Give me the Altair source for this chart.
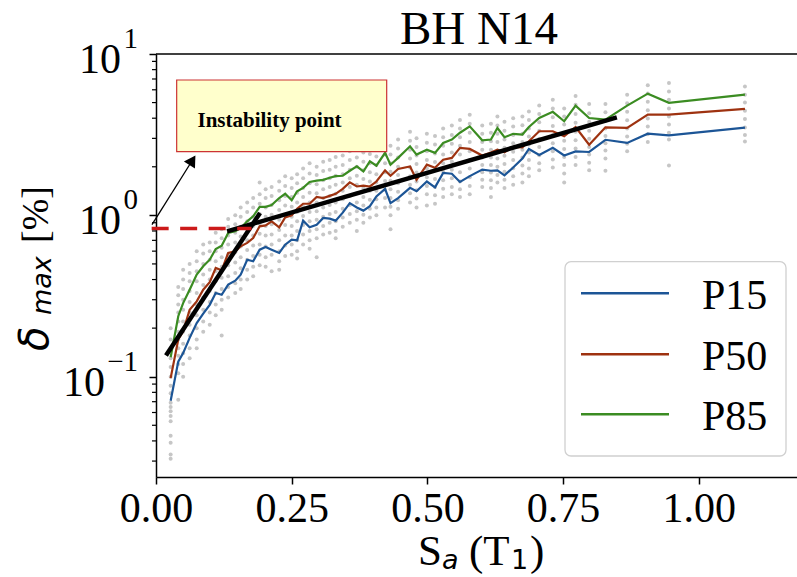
import altair as alt
import pandas as pd

# ---------------- data ----------------
sa = [0.027, 0.041, 0.050, 0.062, 0.075, 0.087, 0.099, 0.110, 0.121, 0.133,
      0.146, 0.156, 0.168, 0.179, 0.191, 0.202, 0.213, 0.227, 0.238, 0.250,
      0.260, 0.271, 0.283, 0.296, 0.308, 0.320, 0.331, 0.344, 0.357, 0.370,
      0.382, 0.394, 0.406, 0.422, 0.432, 0.446, 0.468, 0.480, 0.499, 0.514,
      0.529, 0.545, 0.560, 0.578, 0.601, 0.617, 0.629, 0.642, 0.658, 0.675,
      0.687, 0.706, 0.731, 0.752, 0.773, 0.798, 0.828, 0.868, 0.906, 0.945,
      1.085]

p15 = [0.071, 0.124, 0.140, 0.174, 0.215, 0.246, 0.279, 0.330, 0.322, 0.372,
       0.394, 0.429, 0.531, 0.519, 0.613, 0.637, 0.613, 0.585, 0.658, 0.707,
       0.700, 0.927, 0.843, 0.875, 0.963, 0.954, 0.927, 1.04, 1.19, 1.12,
       1.07, 1.14, 1.31, 1.46, 1.19, 1.28, 1.48, 1.41, 1.62, 1.49,
       1.83, 1.81, 1.61, 1.75, 1.92, 1.89, 1.90, 1.77, 1.98, 2.25,
       2.58, 2.37, 2.62, 2.35, 2.49, 2.47, 2.94, 2.81, 3.21, 3.13,
       3.50]

p50 = [0.098, 0.170, 0.191, 0.260, 0.293, 0.346, 0.385, 0.472, 0.456, 0.585,
       0.598, 0.643, 0.675, 0.724, 0.855, 0.867, 0.918, 0.843, 0.972, 1.00,
       1.10, 1.18, 1.18, 1.30, 1.28, 1.32, 1.36, 1.46, 1.60, 1.51,
       1.53, 1.51, 1.62, 1.90, 1.76, 1.94, 2.01, 1.66, 2.06, 1.97,
       2.21, 2.27, 2.62, 2.58, 2.35, 2.45, 2.55, 2.46, 2.66, 2.64,
       2.88, 3.32, 3.32, 3.09, 3.53, 2.74, 3.51, 3.48, 4.21, 4.21,
       4.57]

p85 = [0.132, 0.237, 0.286, 0.346, 0.429, 0.483, 0.531, 0.619, 0.649, 0.778,
       0.796, 0.835, 0.918, 0.986, 1.13, 1.13, 1.16, 1.28, 1.36, 1.24,
       1.41, 1.48, 1.61, 1.64, 1.66, 1.71, 1.75, 1.76, 1.89, 2.01,
       1.87, 2.16, 2.03, 2.44, 2.06, 2.27, 2.68, 2.38, 2.55, 2.44,
       2.81, 2.95, 3.25, 3.56, 2.92, 2.95, 3.48, 3.05, 3.20, 3.17,
       3.53, 4.01, 4.38, 3.83, 4.79, 4.01, 3.92, 4.79, 5.68, 4.98,
       5.60]

# individual records (grey dots), one list per Sa value above
records = [
    [0.20, 0.17, 0.15, 0.13, 0.115, 0.10, 0.088, 0.079, 0.069, 0.065, 0.061, 0.057, 0.053, 0.043, 0.039, 0.033, 0.031],
    [0.36, 0.32, 0.28, 0.25, 0.22, 0.19, 0.17, 0.15, 0.135, 0.12, 0.105, 0.072],
    [0.46, 0.40, 0.35, 0.30, 0.26, 0.22, 0.19, 0.16, 0.14, 0.12, 0.10],
    [0.50, 0.44, 0.39, 0.34, 0.29, 0.25, 0.21, 0.18, 0.15, 0.13],
    [0.60, 0.52, 0.45, 0.39, 0.33, 0.28, 0.24, 0.20, 0.17, 0.15],
    [0.66, 0.58, 0.50, 0.43, 0.37, 0.31, 0.26, 0.22, 0.19],
    [0.68, 0.60, 0.53, 0.46, 0.40, 0.34, 0.29, 0.25, 0.21],
    [0.78, 0.68, 0.60, 0.52, 0.45, 0.39, 0.33, 0.28, 0.24],
    [0.82, 0.72, 0.63, 0.55, 0.48, 0.41, 0.35, 0.30, 0.26, 0.18],
    [0.95, 0.85, 0.75, 0.66, 0.57, 0.49, 0.42, 0.36, 0.31],
    [1.00, 0.88, 0.78, 0.68, 0.59, 0.51, 0.44, 0.38, 0.33],
    [1.12, 0.98, 0.85, 0.74, 0.64, 0.55, 0.47, 0.40, 0.35],
    [1.20, 1.05, 0.92, 0.80, 0.70, 0.61, 0.53, 0.46, 0.40],
    [1.28, 1.12, 0.98, 0.86, 0.75, 0.65, 0.56, 0.48, 0.42],
    [1.60, 1.35, 1.18, 1.02, 0.89, 0.77, 0.66, 0.57, 0.49],
    [1.45, 1.28, 1.12, 0.98, 0.86, 0.75, 0.64, 0.55, 0.48],
    [1.50, 1.32, 1.16, 1.01, 0.88, 0.76, 0.66, 0.57, 0.45],
    [1.62, 1.42, 1.24, 1.08, 0.94, 0.81, 0.70, 0.60, 0.52, 0.46],
    [1.75, 1.52, 1.32, 1.15, 1.00, 0.87, 0.75, 0.65, 0.56],
    [1.70, 1.48, 1.30, 1.13, 0.98, 0.86, 0.75, 0.66, 0.57],
    [1.80, 1.58, 1.38, 1.20, 1.05, 0.92, 0.80, 0.70, 0.60, 0.54],
    [1.95, 1.70, 1.48, 1.30, 1.13, 0.99, 0.87, 0.76, 0.66],
    [2.10, 1.82, 1.58, 1.38, 1.20, 1.05, 0.92, 0.80, 0.70, 0.62],
    [2.00, 1.78, 1.56, 1.37, 1.20, 1.06, 0.94, 0.82, 0.72, 0.55],
    [2.15, 1.88, 1.65, 1.45, 1.28, 1.12, 0.98, 0.86, 0.76],
    [2.20, 1.92, 1.70, 1.50, 1.32, 1.16, 1.02, 0.90, 0.78],
    [2.30, 2.00, 1.76, 1.55, 1.36, 1.20, 1.05, 0.92, 0.80, 0.72],
    [2.35, 2.05, 1.80, 1.60, 1.42, 1.26, 1.10, 0.97, 0.85],
    [2.50, 2.20, 1.92, 1.70, 1.50, 1.32, 1.16, 1.02, 0.90],
    [2.60, 2.28, 2.00, 1.76, 1.55, 1.37, 1.20, 1.06, 0.94, 0.80],
    [2.45, 2.15, 1.90, 1.68, 1.48, 1.30, 1.15, 1.01, 0.90],
    [2.75, 2.40, 2.10, 1.85, 1.62, 1.42, 1.25, 1.10, 0.97],
    [2.65, 2.32, 2.05, 1.80, 1.60, 1.42, 1.26, 1.12, 1.00],
    [3.10, 2.70, 2.38, 2.10, 1.85, 1.63, 1.44, 1.28, 1.12],
    [2.70, 2.38, 2.10, 1.86, 1.64, 1.45, 1.28, 1.13, 1.00, 0.82],
    [2.95, 2.60, 2.28, 2.00, 1.78, 1.58, 1.40, 1.24, 1.10],
    [3.30, 2.90, 2.55, 2.25, 1.98, 1.75, 1.55, 1.37, 1.20],
    [3.00, 2.65, 2.35, 2.08, 1.84, 1.62, 1.43, 1.27, 1.12],
    [3.20, 2.82, 2.50, 2.20, 1.95, 1.72, 1.52, 1.35, 1.15],
    [3.10, 2.75, 2.42, 2.14, 1.90, 1.68, 1.50, 1.33, 1.18],
    [3.45, 3.05, 2.70, 2.38, 2.10, 1.86, 1.65, 1.46, 1.30],
    [3.60, 3.15, 2.78, 2.45, 2.16, 1.92, 1.70, 1.50, 1.35],
    [3.90, 3.45, 3.05, 2.70, 2.38, 2.10, 1.85, 1.62, 1.45, 1.30],
    [4.20, 3.70, 3.25, 2.85, 2.50, 2.20, 1.95, 1.72, 1.52, 1.35],
    [3.60, 3.20, 2.85, 2.55, 2.28, 2.05, 1.85, 1.66, 1.50],
    [3.70, 3.25, 2.88, 2.55, 2.28, 2.05, 1.84, 1.65, 1.48, 1.30],
    [4.10, 3.60, 3.20, 2.85, 2.52, 2.25, 2.00, 1.78, 1.60],
    [3.80, 3.35, 2.95, 2.62, 2.34, 2.08, 1.86, 1.66, 1.48],
    [4.00, 3.55, 3.15, 2.80, 2.48, 2.20, 1.96, 1.75, 1.55],
    [4.10, 3.62, 3.20, 2.85, 2.55, 2.28, 2.04, 1.82, 1.60],
    [4.40, 3.90, 3.45, 3.08, 2.75, 2.45, 2.20, 1.95, 1.75],
    [4.80, 4.25, 3.78, 3.35, 2.98, 2.65, 2.36, 2.10, 1.90],
    [5.20, 4.60, 4.05, 3.58, 3.15, 2.80, 2.50, 2.22, 1.98],
    [4.60, 4.10, 3.65, 3.25, 2.90, 2.58, 2.30, 2.05, 1.82, 1.60],
    [5.50, 4.85, 4.25, 3.75, 3.30, 2.92, 2.60, 2.30, 2.05],
    [4.90, 4.30, 3.80, 3.35, 2.98, 2.65, 2.38, 2.12, 1.90],
    [4.90, 4.35, 3.85, 3.45, 3.10, 2.80, 2.52, 2.25, 1.89],
    [5.60, 4.95, 4.38, 3.88, 3.45, 3.08, 2.78, 2.50],
    [6.40, 5.70, 5.05, 4.48, 3.98, 3.55, 3.18, 2.85],
    [6.60, 5.85, 5.20, 4.60, 4.10, 3.65, 3.25, 2.95, 2.04],
    [6.30, 5.60, 5.00, 4.45, 3.95, 3.50, 3.15, 2.87],
]

series_names = ["P15", "P50", "P85"]
series_colors = ["#1c5596", "#9e3210", "#3b8c22"]

# bilinear fit segments (start x, start y, end x, end y)
fit_x1 = [0.0184, 0.131]
fit_y1 = [0.1355, 0.796]
fit_x2 = [0.1916, 0.849]
fit_y2 = [1.035, 4.05]

# instability point (dashed level)
inst_x = [-0.008, 0.176]
inst_y = [0.83]

# annotation box / text / arrow (data coordinates)
box_x = [0.0381, 0.425]
box_y = [2.48, 6.90]
box_text = "Instability point"
box_text_pos = [0.0764, 3.53]
arrow_tail = [-0.0074, 0.876]
arrow_head = [0.0671, 2.196]

x_ticks = [0.0, 0.25, 0.5, 0.75, 1.0]
y_major = [0.1, 1.0, 10.0]
y_minor = [0.03, 0.04, 0.05, 0.06, 0.07, 0.08, 0.09,
           0.2, 0.3, 0.4, 0.5, 0.6, 0.7, 0.8, 0.9,
           2, 3, 4, 5, 6, 7, 8, 9]

# ---------------- tables ----------------
dots_df = pd.DataFrame([{"x": s, "v": v} for s, vals in zip(sa, records) for v in vals])
lines_df = pd.DataFrame(
    [{"x": s, "v": v, "series": n}
     for n, col in zip(series_names, [p15, p50, p85])
     for s, v in zip(sa, col)]
)
fit_df = pd.DataFrame({"x": fit_x1, "v": fit_y1, "x2": fit_x2, "v2": fit_y2})
inst_df = pd.DataFrame({"x": [inst_x[0]], "x2": [inst_x[1]], "v": inst_y})
box_df = pd.DataFrame({"x": [box_x[0]], "x2": [box_x[1]], "v": [box_y[0]], "v2": [box_y[1]]})
boxtext_df = pd.DataFrame({"x": [box_text_pos[0]], "v": [box_text_pos[1]], "t": [box_text]})
arrow_df = pd.DataFrame({"x": [arrow_tail[0]], "v": [arrow_tail[1]],
                         "x2": [arrow_head[0]], "v2": [arrow_head[1]]})
head_df = pd.DataFrame({"x": [arrow_head[0]], "v": [arrow_head[1]]})
minor_df = pd.DataFrame({"v": y_minor})

# ---------------- layout ----------------
W, H = 641, 423
SERIF = "Liberation Serif"
MATH = "DejaVu Sans"

xscale = alt.Scale(domain=[0, 1.1809], nice=False, zero=False)
yscale = alt.Scale(type="log", domain=[0.0239, 10], nice=False)

X = alt.X("x:Q", scale=xscale,
          axis=alt.Axis(values=x_ticks, format=".2f", title=None, grid=False,
                        labelFont=SERIF, labelFontSize=42, labelColor="black",
                        labelPadding=37, labelBaseline="alphabetic",
                        labelFlush=False, labelOverlap=False,
                        tickSize=7, tickWidth=1.5, tickColor="black",
                        domainColor="black", domainWidth=1.5))
Y = alt.Y("v:Q", scale=yscale,
          axis=alt.Axis(values=y_major, labels=False, title=None, grid=False,
                        tickSize=7, tickWidth=1.5, tickColor="black",
                        domainColor="black", domainWidth=1.5))

layers = []

layers.append(alt.Chart(dots_df).mark_circle(size=16, color="#c6c6c6", opacity=1)
              .encode(x=X, y=Y))

layers.append(alt.Chart(lines_df).mark_line(strokeWidth=2.2)
              .encode(x=X, y=Y,
                      color=alt.Color("series:N",
                                      scale=alt.Scale(domain=series_names, range=series_colors),
                                      legend=None)))

layers.append(alt.Chart(fit_df).mark_rule(strokeWidth=4.5, color="black")
              .encode(x=X, y=Y, x2="x2:Q", y2="v2:Q"))

layers.append(alt.Chart(inst_df).mark_rule(strokeWidth=3.5, color="#cc1a1a", strokeDash=[17, 11.5])
              .encode(x=X, x2="x2:Q", y=Y))

layers.append(alt.Chart(box_df).mark_rect(fill="#ffffcc", stroke="#cc3333", strokeWidth=1.2)
              .encode(x=X, x2="x2:Q", y=Y, y2="v2:Q"))

layers.append(alt.Chart(boxtext_df).mark_text(align="left", baseline="alphabetic", font=SERIF,
                                               fontWeight="bold", fontSize=21, color="black")
              .encode(x=X, y=Y, text="t:N"))

layers.append(alt.Chart(arrow_df).mark_rule(strokeWidth=1.3, color="black")
              .encode(x=X, y=Y, x2="x2:Q", y2="v2:Q"))

layers.append(alt.Chart(head_df).mark_point(shape="triangle-up", filled=True, size=170,
                                             color="black", opacity=1, angle=32)
              .encode(x=X, y=Y))

# top spine
layers.append(alt.Chart(pd.DataFrame({"a": [0]})).mark_rule(color="black", strokeWidth=1.5)
              .encode(x=alt.value(0), x2=alt.value(W), y=alt.value(0)))

# minor y ticks
layers.append(alt.Chart(minor_df).mark_rule(color="black", strokeWidth=1.2)
              .encode(y=Y, x=alt.value(-4), x2=alt.value(0)))


def txt(text, x, y, size, font=SERIF, style="normal", angle=0, align="left"):
    return (alt.Chart(pd.DataFrame({"t": [text]}))
            .mark_text(align=align, baseline="alphabetic", font=font, fontSize=size,
                       fontStyle=style, angle=angle, color="black")
            .encode(x=alt.value(x), y=alt.value(y), text="t:N"))


# chart title
layers.append(txt("BH N14", 323, -10, 47, align="center"))

# y tick labels: 10^k
ylab_big = pd.DataFrame({"v": [10.0, 1.0], "t": ["10", "10"]})
ylab_big2 = pd.DataFrame({"v": [0.1], "t": ["10"]})
ylab_exp = pd.DataFrame({"v": y_major, "t": ["\u22121", "0", "1"]})
layers.append(alt.Chart(ylab_big).mark_text(align="right", baseline="alphabetic", font=SERIF,
                                             fontSize=42, dy=19, color="black")
              .encode(y=Y, x=alt.value(-35), text="t:N"))
layers.append(alt.Chart(ylab_big2).mark_text(align="right", baseline="alphabetic", font=SERIF,
                                              fontSize=42, dy=19, color="black")
              .encode(y=Y, x=alt.value(-51), text="t:N"))
layers.append(alt.Chart(ylab_exp).mark_text(align="right", baseline="alphabetic", font=SERIF,
                                             fontSize=29, dy=-6, color="black")
              .encode(y=Y, x=alt.value(-18), text="t:N"))

# y-axis title: delta_max [%]
layers.append(txt("\u03b4", -108, 297, 40, font=MATH, style="italic", angle=270))
layers.append(txt("max", -105, 261, 27, font=MATH, style="italic", angle=270))
layers.append(txt("[%]", -108, 189, 38, angle=270))

# x-axis title: S_a (T_1)
layers.append(txt("S", 262, 511, 43))
layers.append(txt("a", 286, 515, 27, font=MATH, style="italic"))
layers.append(txt("(T", 313, 511, 43))
layers.append(txt("1", 355, 515, 27, font=MATH))
layers.append(txt(")", 374, 511, 43))

# legend
layers.append(alt.Chart(pd.DataFrame({"a": [0]}))
              .mark_rect(fill="white", fillOpacity=0.85, stroke="#d0d0d0", strokeWidth=1.3, cornerRadius=6)
              .encode(x=alt.value(409), x2=alt.value(630), y=alt.value(207.7), y2=alt.value(402)))
leg_rows = [239.3, 300.3, 360.3]
for name, col, ly in zip(series_names, series_colors, leg_rows):
    layers.append(alt.Chart(pd.DataFrame({"a": [0]})).mark_rule(color=col, strokeWidth=2.4)
                  .encode(x=alt.value(425), x2=alt.value(513), y=alt.value(ly)))
    layers.append(txt(name, 546, ly + 16, 42))

chart = (alt.layer(*layers)
         .properties(width=W, height=H,
                     autosize=alt.AutoSizeParams(type="none"),
                     padding={"left": 156, "top": 54, "right": 0, "bottom": 100})
         .configure_view(stroke=None))

chart.save("out.html", embed_options={"renderer": "svg", "actions": False})
